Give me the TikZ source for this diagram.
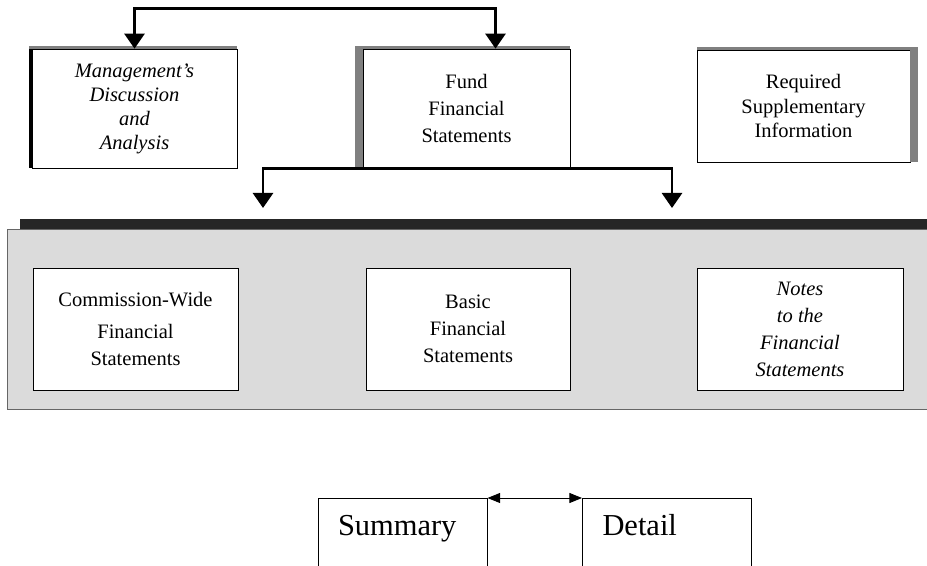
\documentclass[tikz,border=0pt]{standalone}
\usepackage{fontspec}
\setmainfont{Liberation Serif}
\newcommand*{\boxfont}{\fontsize{17.5}{23}\selectfont}
\newcommand*{\tightfont}{\fontsize{17.5}{20.5}\selectfont}
\newcommand*{\tabfont}{\fontsize{26}{30}\selectfont}
\definecolor{panelgrey}{gray}{0.86}
\definecolor{bargrey}{gray}{0.15}
\definecolor{edgegrey}{gray}{0.50}
\usetikzlibrary{arrows.meta}
\usetikzlibrary{positioning}
\tikzstyle{base}=[x=0.03cm, y=-0.03cm]
\tikzstyle{box}=[draw=black, fill=white, line width=0.6pt, inner sep=0pt, align=center, font=\boxfont]
\tikzstyle{conn}=[line width=2.3pt, {Triangle[width=0.6cm,length=0.45cm]}-{Triangle[width=0.6cm,length=0.45cm]}]
\tikzstyle{link}=[line width=0.8pt, {Triangle[width=0.3cm,length=0.38cm]}-{Triangle[width=0.3cm,length=0.38cm]}]
\tikzstyle{tab}=[draw=black, line width=0.8pt, anchor=north, text width=3.87cm, inner xsep=0.6cm, inner ysep=0.3cm, text height=0.81cm, text depth=2cm, align=left, font=\tabfont]

\begin{document}
\begin{tikzpicture}[base]
    \path [use as bounding box] (0,0) rectangle (927,566);
    % top row
    \node [box, minimum width=6.15cm, minimum height=3.57cm, font=\tightfont\itshape] (mda) at (134.5,108.5) {Management's\\ Discussion\\ and\\ Analysis};
    \node [box, minimum width=6.21cm, minimum height=3.57cm] (fund) at (466.5,108.5) {Fund\\ Financial\\ Statements};
    \node [box, minimum width=6.39cm, minimum height=3.36cm, font=\tightfont] (rsi) at (803.5,106) {Required\\ Supplementary\\ Information};
        \fill [black] ([xshift=-0.09cm]mda.south west) rectangle (mda.north west);
        \fill [edgegrey] ([xshift=-0.09cm]mda.north west) rectangle ([yshift=0.09cm]mda.north east);
        \fill [edgegrey] ([xshift=-0.24cm]fund.south west) rectangle (fund.north west);
        \fill [edgegrey] ([xshift=-0.24cm]fund.north west) rectangle ([yshift=0.09cm]fund.north east);
        \fill [edgegrey] (rsi.south east) rectangle ([xshift=0.24cm, yshift=0.09cm]rsi.north east);
        \fill [edgegrey] (rsi.north west) rectangle ([yshift=0.09cm]rsi.north east);
    \draw [conn] (mda.north) -- ++(0,-40) -| ([xshift=0.87cm]fund.north);
    % statements panel
    \coordinate (tipL) at (263,208);
    \coordinate (tipR) at (672,208);
    \draw [conn] (tipL) |- (fund.south) -| (tipR);
    \fill [bargrey] (20,219) rectangle (927,229);
    \filldraw [fill=panelgrey, draw=black!60, line width=0.6pt] (7,229) rectangle (927,409);
    \node [box, minimum width=6.15cm, minimum height=3.66cm] (cwide) at (135.5,329) {Commission-Wide\\[5pt] Financial\\ Statements};
    \node [box, minimum width=6.12cm, minimum height=3.66cm] (basic) at (468,329) {Basic\\ Financial\\ Statements};
    \node [box, minimum width=6.18cm, minimum height=3.66cm, font=\boxfont\itshape] (notes) at (800,329) {Notes\\ to the\\ Financial\\ Statements};
    % summary / detail
    \node [tab] (summary) at (402.5,498) {Summary};
    \node [tab] (detail) at (667,498) {Detail};
    \draw [link] (summary.north east) -- (detail.north west);
\end{tikzpicture}
\end{document}
